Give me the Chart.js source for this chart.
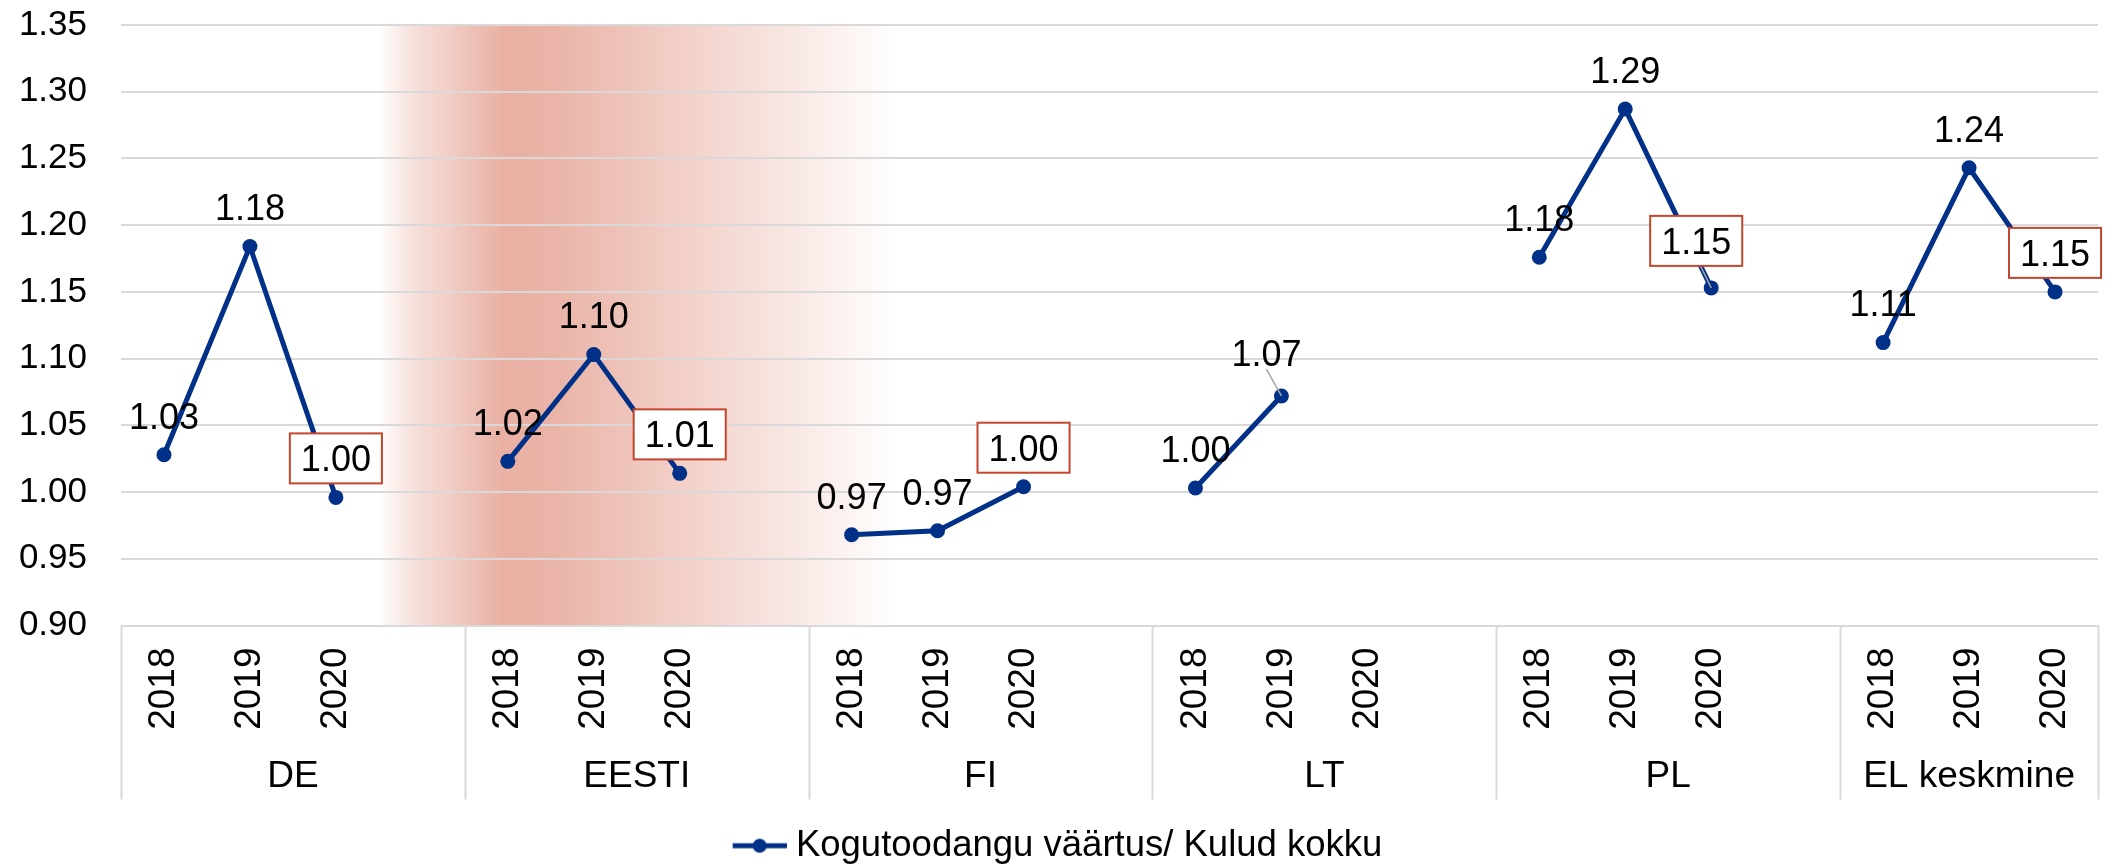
<!DOCTYPE html>
<html>
<head>
<meta charset="utf-8">
<script src="https://cdn.jsdelivr.net/npm/chart.js@4.4.1/dist/chart.umd.min.js"></script>
<style>
  html, body { margin: 0; padding: 0; background: #fff; }
  #wrap { width: 2112px; height: 864px; }
</style>
</head>
<body>
<div id="wrap"><canvas id="chart" width="2112" height="864"></canvas></div>
<script>
// --- data ---
const groups = ['DE', 'EESTI', 'FI', 'LT', 'PL', 'EL keskmine'];
const years = ['2018', '2019', '2020'];
const deValues = [1.028, 1.184, 0.996];
const eestiValues = [1.023, 1.103, 1.014];
const fiValues = [0.968, 0.971, 1.004];
const ltValues = [1.003, 1.072, null];
const plValues = [1.176, 1.287, 1.153];
const elValues = [1.112, 1.243, 1.150];
const yTicks = [0.90, 0.95, 1.00, 1.05, 1.10, 1.15, 1.20, 1.25, 1.30, 1.35];
const seriesName = 'Kogutoodangu väärtus/ Kulud kokku';
const boxedYear = '2020';

const FONT = "'Liberation Sans', Arial, sans-serif";
const LINE_COLOR = '#003087';
const GRID_COLOR = '#D9D9D9';

// Excel layout: every group except the last has an empty slot after it
const groupValues = [deValues, eestiValues, fiValues, ltValues, plValues, elValues];
const slotLabels = [];
const slotGroup = [];
const slotData = [];
const groupCenters = [];
const groupEdges = [-0.5];
groups.forEach((g, gi) => {
    const start = slotLabels.length;
    years.forEach((y, yi) => {
        slotLabels.push(y);
        slotGroup.push(g);
        slotData.push(groupValues[gi][yi]);
    });
    if (gi < groups.length - 1) {
        slotLabels.push('');
        slotGroup.push(g);
        slotData.push(null);
    }
    const end = slotLabels.length;
    groupCenters.push((start + end - 1) / 2);
    groupEdges.push(end - 0.5);
});

// shaded band behind EESTI
const bandPlugin = {
    id: 'band',
    beforeDraw(chart, args, opts) {
        const { ctx, chartArea } = chart;
        const x = chart.scales.x2;
        const x0 = x.getPixelForValue(opts.from);
        const xp = x.getPixelForValue(opts.peak);
        const x1 = x.getPixelForValue(opts.to);
        const grad = ctx.createLinearGradient(x0, 0, x1, 0);
        const p = (xp - x0) / (x1 - x0);
        grad.addColorStop(0, 'rgba(233,176,163,0)');
        grad.addColorStop(p * 0.3, 'rgba(233,176,163,0.4)');
        grad.addColorStop(p, 'rgba(233,176,163,1)');
        grad.addColorStop(p + 0.1, 'rgba(233,176,163,0.95)');
        grad.addColorStop(1, 'rgba(233,176,163,0)');
        ctx.save();
        ctx.fillStyle = grad;
        ctx.fillRect(x0, chartArea.top, x1 - x0, chartArea.bottom - chartArea.top);
        ctx.restore();
    }
};

// separators between the country groups under the axis
const separatorPlugin = {
    id: 'separators',
    afterDraw(chart, args, opts) {
        const { ctx, chartArea } = chart;
        const x2 = chart.scales.x2;
        ctx.save();
        ctx.strokeStyle = GRID_COLOR;
        ctx.lineWidth = 2;
        groupEdges.forEach(v => {
            const px = Math.round(x2.getPixelForValue(v)) + 0.5;
            ctx.beginPath();
            ctx.moveTo(px, chartArea.bottom);
            ctx.lineTo(px, x2.top + opts.depth);
            ctx.stroke();
        });
        ctx.restore();
    }
};

// move the legend a little lower, as in the original
const legendShiftPlugin = {
    id: 'legendShift',
    afterUpdate(chart, args, opts) {
        const lg = chart.legend;
        if (!lg) return;
        lg.top += opts.dy;
        lg.bottom += opts.dy;
    }
};

// value labels, 2020 ones in a red box
const valueLabelPlugin = {
    id: 'valueLabels',
    afterDatasetsDraw(chart, args, opts) {
        const ctx = chart.ctx;
        const meta = chart.getDatasetMeta(0);
        const data = chart.data.datasets[0].data;
        ctx.save();
        ctx.font = `${opts.size}px ${FONT}`;
        ctx.textAlign = 'center';
        ctx.textBaseline = 'alphabetic';
        meta.data.forEach((pt, i) => {
            const v = data[i];
            if (v == null) return;
            const nudge = opts.nudges[slotGroup[i] + ' ' + slotLabels[i]] || [0, 0];
            const cx = pt.x + nudge[0];
            const cy = pt.y + opts.offset + nudge[1];
            const text = v.toFixed(2);
            const w = ctx.measureText(text).width;
            if (nudge[0] || nudge[1]) {
                ctx.strokeStyle = '#A6A6A6';
                ctx.lineWidth = 1.5;
                ctx.beginPath();
                ctx.moveTo(cx, cy + opts.size * 0.45);
                ctx.lineTo(pt.x, pt.y);
                ctx.stroke();
            }
            if (slotLabels[i] === boxedYear) {
                const bw = w + 22, bh = 50;
                ctx.fillStyle = '#FFFFFF';
                ctx.fillRect(cx - bw / 2, cy - bh / 2, bw, bh);
                ctx.strokeStyle = '#C4462D';
                ctx.lineWidth = 2;
                ctx.strokeRect(cx - bw / 2, cy - bh / 2, bw, bh);
            }
            ctx.fillStyle = '#000000';
            ctx.fillText(text, cx, cy + opts.size * 0.358);
        });
        ctx.restore();
    }
};

// legend marker: line with a dot (transparent room on the left so the text sits close)
function legendMarker() {
    const c = document.createElement('canvas');
    c.width = 80; c.height = 18;
    const g = c.getContext('2d');
    g.strokeStyle = LINE_COLOR;
    g.lineWidth = 5;
    g.beginPath(); g.moveTo(26, 9); g.lineTo(80, 9); g.stroke();
    g.fillStyle = LINE_COLOR;
    g.beginPath(); g.arc(53, 9, 7, 0, Math.PI * 2); g.fill();
    return c;
}
const marker = legendMarker();

const chart = new Chart(document.getElementById('chart'), {
    type: 'line',
    data: {
        labels: slotLabels,
        datasets: [{
            label: seriesName,
            data: slotData,
            borderColor: LINE_COLOR,
            backgroundColor: LINE_COLOR,
            borderWidth: 5,
            pointRadius: 7.5,
            pointBorderWidth: 0,
            pointBackgroundColor: LINE_COLOR,
            tension: 0,
            spanGaps: false
        }]
    },
    options: {
        responsive: false,
        animation: false,
        layout: { padding: { top: 25, right: 14, left: 0, bottom: 0 } },
        plugins: {
            tooltip: { enabled: false },
            legend: {
                position: 'bottom',
                labels: {
                    font: { family: FONT, size: 36.5 },
                    color: '#000',
                    usePointStyle: true,
                    pointStyleWidth: 62,
                    padding: 0,
                    generateLabels(ch) {
                        const items = Chart.defaults.plugins.legend.labels.generateLabels(ch);
                        items.forEach(it => { it.pointStyle = marker; });
                        return items;
                    }
                }
            },
            legendShift: { dy: 10 },
            band: { from: 2.48, peak: 3.95, to: 8.55 },
            separators: { depth: 68 },
            valueLabels: {
                size: 36,
                offset: -39,
                nudges: { 'LT 2019': [-15, -4], 'PL 2020': [-15, -8] }
            }
        },
        scales: {
            y: {
                min: 0.9,
                max: 1.35,
                afterBuildTicks(scale) { scale.ticks = yTicks.map(v => ({ value: v })); },
                afterFit(scale) {
                    scale.width = 121;
                    scale.paddingTop = 0;
                    scale.paddingBottom = 0;
                },
                grid: { color: GRID_COLOR, lineWidth: 2, drawTicks: false },
                border: { display: false },
                ticks: {
                    font: { family: FONT, size: 35 },
                    color: '#000',
                    padding: 34,
                    callback: v => Number(v).toFixed(2)
                }
            },
            x: {
                type: 'category',
                offset: true,
                afterFit(scale) {
                    scale.height = 106;
                    scale.paddingLeft = 0;
                    scale.paddingRight = 0;
                },
                grid: { display: false, drawTicks: false },
                border: { display: false },
                ticks: {
                    font: { family: FONT, size: 37 },
                    color: '#000',
                    minRotation: 90,
                    maxRotation: 90,
                    autoSkip: false,
                    padding: 22
                }
            },
            x2: {
                type: 'linear',
                position: 'bottom',
                min: -0.5,
                max: slotLabels.length - 0.5,
                afterBuildTicks(scale) { scale.ticks = groupCenters.map(v => ({ value: v })); },
                afterFit(scale) {
                    scale.height = 86;
                    scale.paddingLeft = 0;
                    scale.paddingRight = 0;
                },
                grid: { display: false, drawTicks: false },
                border: { display: false },
                ticks: {
                    font: { family: FONT, size: 37 },
                    color: '#000',
                    autoSkip: false,
                    maxRotation: 0,
                    padding: 23,
                    callback: (v, i) => groups[i]
                }
            }
        }
    },
    plugins: [bandPlugin, separatorPlugin, valueLabelPlugin, legendShiftPlugin]
});
</script>
</body>
</html>
